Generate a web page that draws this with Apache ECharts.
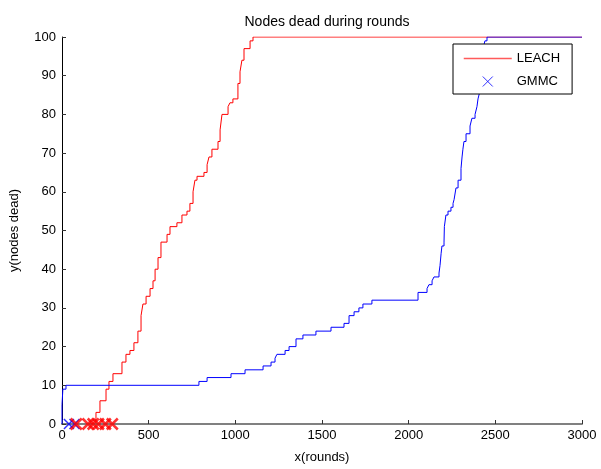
<!DOCTYPE html>
<html><head><meta charset="utf-8">
<script src="https://cdn.jsdelivr.net/npm/echarts@6/dist/echarts.min.js"></script>
<style>html,body{margin:0;padding:0;background:#fff}#c{width:601px;height:469px}</style>
</head><body><div id="c"></div>
<script>
// LEACH cumulative dead nodes (round, dead)
const leachData = [[160,0],[179,1],[196,3],[219,6],[254,9],[271,11],[294,13],[346,16],[369,18],[392,19],[415,21],[438,24],[456,28],[467,31],[485,33],[508,35],[525,37],[537,40],[554,43],[571,47],[606,49],[623,51],[663,52],[692,54],[721,55],[738,57],[756,60],[767,63],[779,64],[819,65],[837,67],[848,69],[865,71],[900,73],[912,76],[923,80],[958,82],[969,83],[986,84],[1015,88],[1027,91],[1038,94],[1050,97],[1085,99],[1102,100],[3000,100]];
// GMMC cumulative dead nodes (round, dead)
const gmmcData = [[0,0],[0,5],[5,9],[23,10],[790,11],[837,12],[975,13],[1056,14],[1160,15],[1206,16],[1229,17],[1240,18],[1287,19],[1310,20],[1350,22],[1390,23],[1465,24],[1552,25],[1627,26],[1656,28],[1685,29],[1713,30],[1736,31],[1788,32],[2054,34],[2106,35],[2117,36],[2135,37],[2146,38],[2175,39],[2181,41],[2187,44],[2192,46],[2204,47],[2206,51],[2215,54],[2227,55],[2244,56],[2256,57],[2262,58],[2273,61],[2285,63],[2302,66],[2308,69],[2313,71],[2319,73],[2331,75],[2354,77],[2365,79],[2383,80],[2394,82],[2400,84],[2411,86],[2418,90],[2424,94],[2429,97],[2440,99],[2452,100],[3000,100]];
// markers on the x axis
const gmmcMarks = [[40,0],[72,0]];
const leachMarks = [[82,0],[150,0],[180,0],[210,0],[250,0],[290,0]];
// axis ticks
const xTicks = [0,500,1000,1500,2000,2500,3000];
const yTicks = [0,10,20,30,40,50,60,70,80,90,100];

const FONT = 'Liberation Sans, Arial, sans-serif';
const xPath = 'path://M0,0L10,10M10,0L0,10';
const chart = echarts.init(document.getElementById('c'), null, {renderer:'canvas'});
chart.setOption({
  animation:false,
  backgroundColor:'#fff',
  title:{text:'Nodes dead during rounds', left:322, top:10, textAlign:'center',
    textStyle:{fontFamily:FONT, fontSize:14, fontWeight:'normal', color:'#000'}},
  grid:{left:62, right:19, top:37, bottom:41},
  legend:{
    show:true,
    orient:'vertical', left:453, top:44,
    padding:[8,12,6,10], itemGap:10, itemWidth:48, itemHeight:10,
    backgroundColor:'#fff', borderColor:'#000', borderWidth:1,
    textStyle:{fontFamily:FONT, fontSize:13, color:'#000'},
    data:[
      {name:'LEACH', itemStyle:{opacity:0}, lineStyle:{color:'#ff5a5a', width:1.5}},
      {name:'GMMC', icon:xPath, itemStyle:{color:'#fff', borderColor:'#0000ff', borderWidth:1}}
    ]
  },
  xAxis:{type:'value', min:xTicks[0], max:xTicks[xTicks.length-1], interval:500,
    name:'x(rounds)', nameLocation:'middle', nameGap:27,
    nameTextStyle:{fontFamily:FONT, fontSize:13, color:'#000'},
    axisLine:{lineStyle:{color:'#808080', width:2}},
    axisTick:{inside:true, length:4, lineStyle:{color:'#333'}},
    axisLabel:{fontFamily:FONT, fontSize:13, color:'#000', margin:5, formatter:function(v){return String(v);}},
    splitLine:{show:false}},
  yAxis:{type:'value', min:yTicks[0], max:yTicks[yTicks.length-1], interval:10,
    name:'y(nodes dead)', nameLocation:'middle', nameGap:41,
    nameTextStyle:{fontFamily:FONT, fontSize:13, color:'#000'},
    axisLine:{show:true, lineStyle:{color:'#000', width:1}},
    axisTick:{show:true, inside:true, length:4, lineStyle:{color:'#333'}},
    axisLabel:{fontFamily:FONT, fontSize:13, color:'#000', margin:6},
    splitLine:{show:false}},
  series:[
    {name:'LEACH', type:'line', step:'end', data:leachData, symbol:'none', showSymbol:false,
      lineStyle:{color:'#ff0000', width:1}, itemStyle:{color:'#ff0000'}, z:2},
    {name:'GMMC line', type:'line', step:'end', data:gmmcData, symbol:'none', showSymbol:false,
      lineStyle:{color:'#0000ff', width:1}, itemStyle:{color:'#0000ff'}, z:3},
    {name:'GMMC', type:'scatter', data:gmmcMarks, symbol:xPath, symbolSize:10, clip:false,
      itemStyle:{color:'#fff', borderColor:'#0000ff', borderWidth:1.5}, z:4},
    {name:'LEACH marks', type:'scatter', data:leachMarks, symbol:xPath, symbolSize:11, clip:false,
      itemStyle:{color:'#fff', borderColor:'#ff0000', borderWidth:2.5}, z:5}
  ]
});
</script>
</body></html>
